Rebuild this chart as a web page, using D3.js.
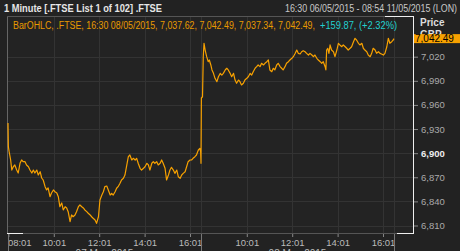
<!DOCTYPE html>
<html><head><meta charset="utf-8">
<script src="https://cdn.jsdelivr.net/npm/d3@7"></script>
<style>
html,body{margin:0;padding:0;background:#222;}
svg{display:block;}
text{font-family:"Liberation Sans",Arial,sans-serif;}
</style></head>
<body>
<svg id="c" width="460" height="251"></svg>
<script>
// minute of the two trading sessions (0 = 07 May 08:00, 510 = 08 May 08:00, 1020 = 08 May 16:30)
const minutes = [0,1,3,7,10,14,18,23,27,32,36,40,45,49,54,58,63,67,71,76,80,85,89,93,98,102,106,111,115,120,124,129,133,137,142,146,151,155,159,164,168,172,177,181,186,190,195,199,203,208,212,217,221,225,230,234,239,243,248,252,256,261,265,270,274,278,283,287,291,296,300,305,309,314,318,322,327,331,336,340,344,349,353,358,362,367,371,375,380,384,388,393,397,402,406,410,415,419,424,428,432,437,441,446,450,455,459,463,468,472,476,481,485,489,494,498,503,507,509,510,
511,514,516,518,521,525,529,532,536,539,543,547,552,556,561,565,569,574,578,582,587,591,596,600,604,609,613,617,622,626,631,635,640,644,648,653,657,661,666,670,675,679,684,688,692,697,701,705,710,714,719,723,727,732,736,741,745,750,754,759,763,767,772,776,780,785,789,794,798,803,807,811,816,820,825,829,833,838,840,842,845,848,851,855,860,864,869,873,877,882,886,891,895,899,904,908,913,917,921,926,930,935,939,943,948,952,957,961,965,970,974,979,983,987,992,996,1001,1005,1009,1014,1018,1020];
const prices = [6937.5,6908.0,6901.8,6891.5,6879.0,6883.1,6885.3,6879.0,6875.3,6887.8,6891.5,6889.4,6889.4,6885.3,6883.1,6879.0,6875.3,6879.0,6875.3,6879.0,6872.8,6876.9,6869.1,6866.6,6858.3,6854.2,6856.7,6845.8,6850.4,6854.2,6852.0,6850.4,6845.8,6833.4,6838.0,6829.3,6833.4,6831.8,6827.2,6814.7,6823.1,6820.9,6823.1,6827.2,6833.4,6835.5,6833.4,6831.8,6829.3,6827.2,6825.2,6823.1,6820.9,6819.0,6816.8,6812.7,6820.9,6841.7,6847.9,6852.0,6858.3,6859.1,6854.2,6847.9,6850.1,6847.9,6852.0,6856.3,6858.3,6862.5,6866.6,6868.7,6872.8,6885.3,6895.6,6897.7,6891.5,6893.6,6891.5,6893.6,6887.4,6881.2,6879.0,6881.2,6883.1,6887.4,6885.3,6879.0,6887.4,6889.4,6887.4,6889.4,6885.3,6887.4,6891.5,6887.4,6881.2,6866.6,6872.8,6879.0,6882.4,6879.0,6874.9,6879.0,6870.7,6868.7,6872.8,6874.9,6876.9,6883.1,6889.4,6891.5,6891.5,6893.6,6895.6,6897.7,6903.9,6906.0,6901.8,6887.4,
6968.6,6970.2,7020.0,7036.7,7028.3,7020.0,7013.8,7015.9,7009.7,7003.5,6999.3,6993.1,6988.9,6995.1,6999.3,6997.2,6999.3,7003.5,7005.6,7003.5,6999.3,6995.1,6999.3,6991.0,6986.9,6991.0,6988.9,6984.8,6986.9,6991.0,6993.1,6995.1,6999.3,6997.2,7001.3,7005.6,7007.6,7009.7,7007.6,7011.8,7009.7,7011.8,7013.8,7015.9,7003.5,7001.3,7005.6,7003.5,7009.7,7011.8,7007.6,7005.6,7003.5,7007.6,7011.8,7013.8,7015.9,7018.0,7020.0,7024.2,7028.3,7024.2,7023.4,7026.2,7027.5,7026.2,7024.2,7022.1,7024.2,7022.1,7020.0,7022.1,7018.0,7015.9,7013.8,7011.8,7013.8,7007.6,7003.5,7028.3,7030.5,7024.2,7034.6,7028.3,7026.2,7020.0,7028.3,7036.7,7034.6,7032.4,7034.6,7032.4,7030.5,7028.3,7030.5,7032.4,7038.7,7042.9,7040.8,7036.7,7034.6,7036.7,7030.5,7028.3,7026.2,7022.1,7020.0,7024.2,7030.5,7028.3,7024.2,7026.2,7024.2,7023.4,7022.1,7024.2,7032.4,7042.9,7036.7,7038.7,7040.8,7042.49];

const yTicks = [6810,6840,6870,6900,6930,6960,6990,7020];
const xTickMinutes = [1,121,241,361,481,631,751,871,991];
const xTickLabels = ["08:01","10:01","12:01","14:01","16:01","10:01","12:01","14:01","16:01"];
const sessionBounds = [0,510,1020];
const sessionLabels = ["07 May 2015","08 May 2015"];
const lastPrice = 7042.49;
const titleText = "1 Minute [.FTSE List 1 of 102] .FTSE";
const rangeText = "16:30 06/05/2015 - 08:54 11/05/2015 (LON)";
const legendMain = "BarOHLC, .FTSE, 16:30 08/05/2015, 7,037.62, 7,042.49, 7,037.34, 7,042.49,";
const legendChange = "+159.87, (+2.32%)";

const svg = d3.select("#c");
const W = 460, H = 251;
const P = {l:7, t:16, r:413, b:234};

svg.append("rect").attr("width",W).attr("height",H).attr("fill","#222");
svg.append("rect").attr("x",P.l).attr("y",P.t).attr("width",P.r-P.l).attr("height",P.b-P.t).attr("fill","#232323");

const x = d3.scaleLinear().domain([0,1020]).range([8,394]);
const y = d3.scaleLinear().domain([6810,7020]).range([225.5,56.7]);

// grid
const g = svg.append("g");
g.selectAll("line.h").data(yTicks).join("line")
  .attr("x1",P.l).attr("x2",P.r).attr("y1",d=>Math.round(y(d))+0.5).attr("y2",d=>Math.round(y(d))+0.5)
  .attr("stroke","#333").attr("stroke-width",1);
g.selectAll("line.v").data(xTickMinutes.slice(1).concat([510,1020])).join("line")
  .attr("x1",d=>Math.round(x(d))+0.5).attr("x2",d=>Math.round(x(d))+0.5).attr("y1",P.t).attr("y2",P.b)
  .attr("stroke","#333").attr("stroke-width",1);

// frame
svg.append("line").attr("x1",P.l+0.5).attr("x2",P.l+0.5).attr("y1",P.t).attr("y2",P.b).attr("stroke","#666");
svg.append("line").attr("x1",P.l).attr("x2",P.r).attr("y1",P.t+0.5).attr("y2",P.t+0.5).attr("stroke","#555");
svg.append("line").attr("x1",P.l).attr("x2",P.r).attr("y1",P.b-0.5).attr("y2",P.b-0.5).attr("stroke","#555");
svg.append("line").attr("x1",385).attr("x2",P.r).attr("y1",P.t+0.5).attr("y2",P.t+0.5).attr("stroke","#eee");
svg.append("line").attr("x1",P.r+0.5).attr("x2",P.r+0.5).attr("y1",P.t).attr("y2",P.b).attr("stroke","#eee");
svg.append("line").attr("x1",397).attr("x2",P.r+1).attr("y1",P.b-0.5).attr("y2",P.b-0.5).attr("stroke","#eee");
svg.append("line").attr("x1",P.l).attr("x2",23).attr("y1",P.b-0.5).attr("y2",P.b-0.5).attr("stroke","#eee");

// price line
const data = minutes.map((m,i)=>({m, v:prices[i]}));
svg.append("path").datum(data)
  .attr("d", d3.line().x(d=>x(d.m)).y(d=>y(d.v)))
  .attr("fill","none").attr("stroke","#f7a100").attr("stroke-width",1.2).attr("stroke-linejoin","round");

// y axis
const ya = svg.append("g").attr("transform",`translate(${P.r+1},0)`)
  .call(d3.axisRight(y).tickValues(yTicks).tickFormat(d3.format(",")).tickSize(4).tickPadding(3));
ya.select(".domain").remove();
ya.selectAll("line").attr("stroke","#888");
ya.selectAll("text").attr("fill",d=>d===6900?"#eee":"#aaa").attr("font-size",9.5)
  .attr("font-weight",d=>d===6900?"bold":"normal");

// x axis
const xa = svg.append("g").attr("transform",`translate(0,${P.b})`)
  .call(d3.axisBottom(x).tickValues(xTickMinutes).tickFormat((d,i)=>xTickLabels[i]).tickSize(3).tickPadding(2));
xa.select(".domain").remove();
xa.selectAll("line").attr("stroke","#888");
xa.selectAll("text").attr("fill","#bbb").attr("font-size",9.5)
  .attr("text-anchor",(d,i)=>i===0?"start":"middle").attr("dx",(d,i)=>i===0?-1:0);
svg.selectAll("line.sep").data(sessionBounds).join("line")
  .attr("x1",d=>Math.round(x(d))+0.5).attr("x2",d=>Math.round(x(d))+0.5).attr("y1",P.b).attr("y2",H)
  .attr("stroke","#777");
svg.selectAll("text.sess").data(sessionLabels).join("text")
  .attr("x",(d,i)=>(x(sessionBounds[i])+x(sessionBounds[i+1]))/2).attr("y",257)
  .attr("text-anchor","middle").attr("fill","#bbb").attr("font-size",10).text(d=>d);

// header
svg.append("text").attr("x",4).attr("y",12).attr("fill","#e6e6e6").attr("font-size",10).attr("font-weight","bold")
  .attr("textLength",158).attr("lengthAdjust","spacingAndGlyphs").text(titleText);
svg.append("text").attr("x",285).attr("y",12).attr("fill","#c8c8c8").attr("font-size",10)
  .attr("textLength",172).attr("lengthAdjust","spacingAndGlyphs").text(rangeText);

// legend
svg.append("text").attr("x",13).attr("y",29).attr("font-size",10).attr("fill","#e89a00")
  .attr("textLength",302).attr("lengthAdjust","spacingAndGlyphs").text(legendMain);
svg.append("text").attr("x",320).attr("y",29).attr("font-size",10).attr("fill","#22d0d0")
  .attr("textLength",77).attr("lengthAdjust","spacingAndGlyphs").text(legendChange);

// price label
svg.append("text").attr("x",420).attr("y",26).attr("fill","#ddd").attr("font-size",10).attr("font-weight","bold").text("Price");
svg.append("text").attr("x",420).attr("y",38).attr("fill","#ddd").attr("font-size",10).attr("font-weight","bold").text("GBP");
svg.append("rect").attr("x",P.r+1).attr("y",y(lastPrice)-4.5).attr("width",46).attr("height",9).attr("fill","#f7a100");
svg.append("text").attr("x",P.r+2).attr("y",y(lastPrice)+3.5).attr("fill","#000").attr("font-size",10).text(d3.format(",.2f")(lastPrice));
</script>
</body></html>
